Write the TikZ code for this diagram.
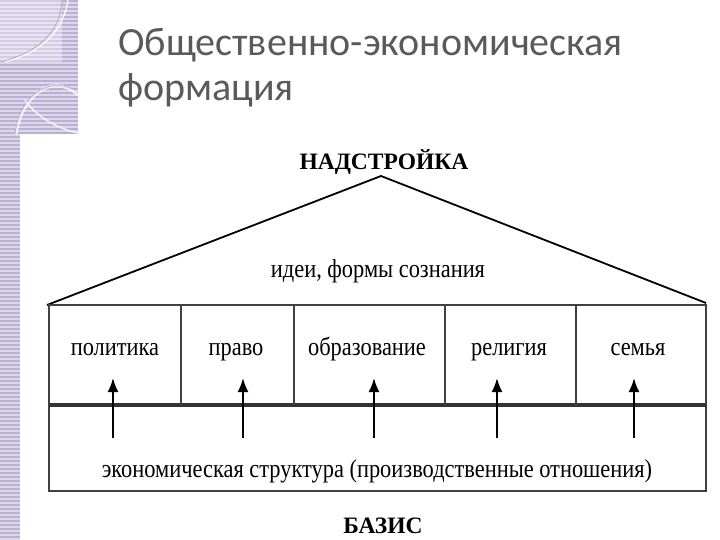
\documentclass[tikz,border=0pt]{standalone}
\usepackage{fontspec}
\usepackage{graphicx}
\setmainfont{Liberation Serif}
\newfontfamily\titlefont{Carlito}
\usetikzlibrary{arrows.meta}
\definecolor{lilac}{HTML}{DCD7EA}
\definecolor{lilacdark}{HTML}{B9B0D4}
\definecolor{titlegray}{HTML}{5A5A5A}
\newcommand{\talltext}[1]{\scalebox{1}[1.15]{#1}}
\begin{document}
\begin{tikzpicture}[x=1pt,y=-1pt,
  lbl/.style={font=\fontsize{22.4}{26}\selectfont, inner sep=0pt, anchor=base},
  head/.style={font=\bfseries\fontsize{23.5}{27}\selectfont, inner sep=0pt, anchor=base},
  frame/.style={draw=black!75, line width=1.6pt},
  roof/.style={draw=black, line width=1.8pt},
  up/.style={draw=black, line width=2pt, -{Latex[length=14pt,width=11pt]}}]
\useasboundingbox (0,0) rectangle (720,540);
\fill[white] (0,0) rectangle (720,540);
% left decorative band
\fill[lilac] (0,0) rectangle (20,540);
\fill[lilac] (0,0) rectangle (78,134);
\foreach \y in {0,4,...,536} {\fill[lilacdark] (0,\y) rectangle (20,\y+2);}
\foreach \y in {0,4,...,132} {\fill[lilacdark] (20,\y) rectangle (78,\y+2);}
\fill[white, opacity=0.35] (0,0) rectangle (62,62);
\draw[white, line width=1.5pt, opacity=0.8] (68,0) .. controls (62,40) and (30,55) .. (5,62);
\draw[black!35, line width=0.6pt] (62,0) .. controls (60,38) and (30,55) .. (0,62);
\draw[white, line width=3pt, opacity=0.7] (78,95) .. controls (50,70) and (20,100) .. (16,135);
\draw[black!35, line width=0.6pt] (75,90) .. controls (45,75) and (18,100) .. (15,135);
\draw[white, line width=1.5pt, opacity=0.8] (25,100) .. controls (35,115) and (55,128) .. (78,133);
% title
\node[anchor=base west, inner sep=0pt, text=titlegray, font=\titlefont\fontsize{40}{45}\selectfont] (title) at (118,56) {Общественно-экономическая};
\node[anchor=base west, inner sep=0pt, text=titlegray, font=\titlefont\fontsize{40}{45}\selectfont] (title2) at (118,101) {формация};
% roof
\node[head] (nad) at (384,170) {НАДСТРОЙКА};
\coordinate (apex) at (381,176);
\coordinate (rl) at (47,305);
\coordinate (rr) at (706,303);
\draw[roof] (rl) -- (apex) -- (rr);
\node[lbl] (idei) at (378,277) {\talltext{идеи, формы сознания}};
% frame
\draw[frame] (49,305) rectangle (706,491);
\draw[draw=black!80, line width=3.5pt] (49,405) -- (706,405);
\foreach \x in {181,294,445,576} {\draw[frame] (\x,305) -- (\x,405);}
% labels
\node[lbl] (p1) at (115,355) {\talltext{политика}};
\node[lbl] (p2) at (236,355) {\talltext{право}};
\node[lbl] (p3) at (367,355) {\talltext{образование}};
\node[lbl] (p4) at (509,355) {\talltext{религия}};
\node[lbl] (p5) at (638,355) {\talltext{семья}};
% arrows
\foreach \i/\x in {1/113,2/243,3/374,4/497,5/634} {
  \coordinate (s\i) at (\x,438);
  \coordinate (e\i) at (\x,378);
  \draw[up] (s\i) -- (e\i);
}
\node[lbl] (econ) at (377,477) {\talltext{экономическая структура (производственные отношения)}};
\node[head] (baz) at (383,533) {БАЗИС};
\end{tikzpicture}
\end{document}
